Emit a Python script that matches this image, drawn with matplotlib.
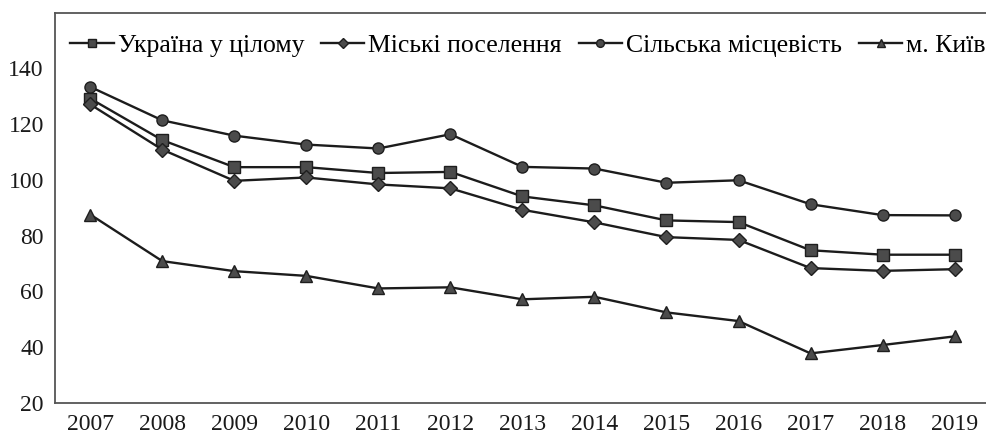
import matplotlib
matplotlib.use("Agg")
import matplotlib.pyplot as plt

years = ["2007", "2008", "2009", "2010", "2011", "2012", "2013",
         "2014", "2015", "2016", "2017", "2018", "2019"]

ukraine = [129.2, 114.3, 104.6, 104.6, 102.5, 102.9, 94.1, 90.9, 85.5, 84.9, 74.8, 73.2, 73.2]
urban = [127.1, 110.9, 99.7, 100.9, 98.4, 97.0, 89.3, 84.8, 79.5, 78.5, 68.4, 67.4, 68.0]
rural = [133.4, 121.4, 115.9, 112.7, 111.3, 116.4, 104.7, 104.1, 99.0, 99.9, 91.3, 87.4, 87.3]
kyiv = [87.6, 70.9, 67.3, 65.6, 61.1, 61.5, 57.2, 58.1, 52.5, 49.4, 37.8, 40.8, 43.9]

series = [
    ("Україна у цілому", ukraine, "s", 8),
    ("Міські поселення", urban, "D", 7.5),
    ("Сільська місцевість", rural, "o", 8),
    ("м. Київ", kyiv, "^", 8.5),
]

plt.rcParams["font.family"] = ["Liberation Serif", "DejaVu Serif"]

fig = plt.figure(figsize=(9.87, 4.34), dpi=100)
ax = fig.add_axes([0.0557, 0.0714, 0.9443, 0.8993])

x = list(range(len(years)))
for label, vals, marker, ms in series:
    ax.plot(x, vals, color="#1c1c1c", linewidth=1.7, marker=marker,
            markersize=ms, markerfacecolor="#4b4b4b",
            markeredgecolor="#1e1e1e", markeredgewidth=1.0, label=label)

ax.set_xlim(-0.49, 12.45)
ax.set_ylim(20, 160)
ax.set_yticks([20, 40, 60, 80, 100, 120, 140])
ax.set_xticks(x)
ax.set_xticklabels(years)
ax.tick_params(axis="both", length=0, labelsize=17, colors="#1a1a1a")
ax.tick_params(axis="y", pad=8)
ax.tick_params(axis="x", pad=8)

for side in ["left", "top", "bottom"]:
    ax.spines[side].set_color("#555555")
    ax.spines[side].set_linewidth(1.3)
ax.spines["right"].set_visible(False)

leg = ax.legend(loc="upper left", bbox_to_anchor=(0.0, 0.985), ncol=4,
                frameon=False, fontsize=18.5, handlelength=1.68,
                handletextpad=0.16, columnspacing=0.66, borderaxespad=0.3,
                borderpad=0.3, markerscale=0.7)

fig.savefig("out.png", dpi=100)
